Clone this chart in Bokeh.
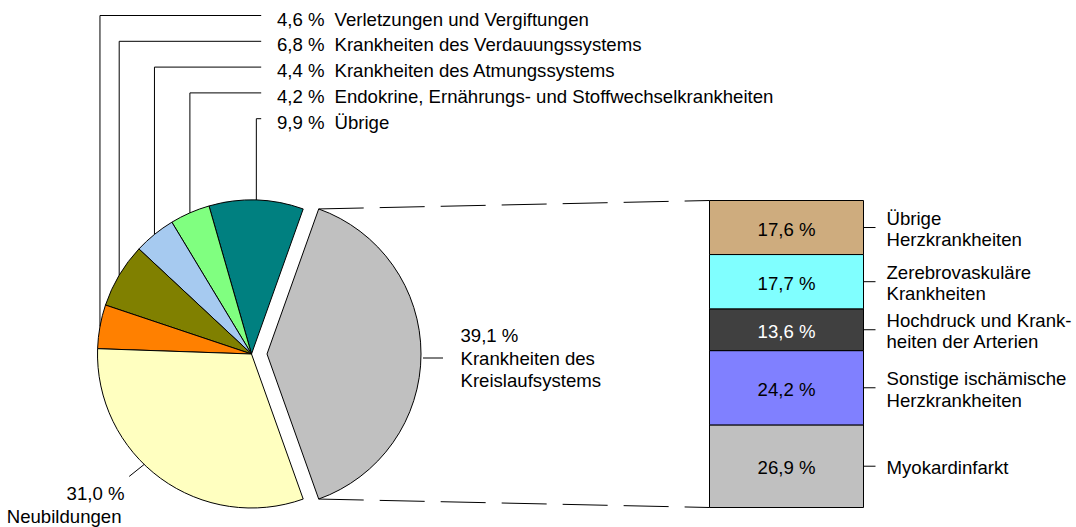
import math
from bokeh.plotting import figure
from bokeh.models import Range1d
from bokeh.embed import file_html
from bokeh.resources import INLINE
from bokeh.core.properties import value

# ---------------- data ----------------
pie_labels = ["Krankheiten des Kreislaufsystems", "Übrige",
              "Endokrine, Ernährungs- und Stoffwechselkrankheiten",
              "Krankheiten des Atmungssystems", "Krankheiten des Verdauungssystems",
              "Verletzungen und Vergiftungen", "Neubildungen"]
pie_values = [39.1, 9.9, 4.2, 4.4, 6.8, 4.6, 31.0]
pie_colors = ["#C0C0C0", "#008080", "#80FF80", "#A6CAF0", "#808000", "#FF8000", "#FFFFC0"]

# order of the labels listed above the pie (top to bottom)
top_label_order = [5, 4, 3, 2, 1]

bar_labels = [["Myokardinfarkt"],
              ["Sonstige ischämische", "Herzkrankheiten"],
              ["Hochdruck und Krank-", "heiten der Arterien"],
              ["Zerebrovaskuläre", "Krankheiten"],
              ["Übrige", "Herzkrankheiten"]]
bar_values = [26.9, 24.2, 13.6, 17.7, 17.6]
bar_colors = ["#C0C0C0", "#8080FF", "#404040", "#80FFFF", "#CEAC7E"]
bar_text_colors = ["black", "black", "white", "black", "black"]


def fmt(v):
    return f"{v:.1f}".replace(".", ",") + " %"


# ---------------- layout ----------------
W, H = 1076, 527
FONT = value("Liberation Sans")
FS = "18.6px"


def px(X):
    return X


def py(Y):
    return H - Y


CX, CY, R = px(251), py(353.5), 154
EXPLODE = 15.5
BAR_L, BAR_R = px(709), px(863)
BAR_B, BAR_T = py(507), py(200)

p = figure(width=W, height=H, output_backend="svg", toolbar_location=None,
           x_range=Range1d(0, W), y_range=Range1d(0, H), min_border=0)
p.axis.visible = False
p.grid.visible = False
p.outline_line_color = None
p.background_fill_color = "white"
p.border_fill_color = "white"

# ---------------- pie ----------------
total = sum(pie_values)
starts, ends, mids, xs, ys = [], [], [], [], []
a = -math.pi * pie_values[0] / total
for i, v in enumerate(pie_values):
    s = a
    e = a + 2 * math.pi * v / total
    m = (s + e) / 2
    starts.append(s)
    ends.append(e)
    mids.append(m)
    off = EXPLODE if i == 0 else 0.0
    xs.append(CX + off * math.cos(m))
    ys.append(CY + off * math.sin(m))
    a = e

p.wedge(x=xs, y=ys, radius=R, start_angle=starts, end_angle=ends,
        direction="anticlock", fill_color=pie_colors, line_color="black", line_width=1)

# ---------------- bar ----------------
bar_total = sum(bar_values)
bottoms, tops = [], []
acc = 0.0
for v in bar_values:
    b = BAR_B + (BAR_T - BAR_B) * acc / bar_total
    acc += v
    t = BAR_B + (BAR_T - BAR_B) * acc / bar_total
    bottoms.append(b)
    tops.append(t)
p.quad(left=BAR_L, right=BAR_R, bottom=bottoms, top=tops,
       fill_color=bar_colors, line_color="black", line_width=1)

bar_mids = [(b + t) / 2 for b, t in zip(bottoms, tops)]
p.text(x=[(BAR_L + BAR_R) / 2] * len(bar_values), y=[m - 1.5 for m in bar_mids],
       text=[fmt(v) for v in bar_values], text_color=bar_text_colors,
       text_font=FONT, text_font_size=FS, text_align="center", text_baseline="middle")

# bar labels
lx, ly, lt = [], [], []
for m, lines in zip(bar_mids, bar_labels):
    n = len(lines)
    for k, line in enumerate(lines):
        lx.append(px(886))
        ly.append(m - 1.5 - (k - (n - 1) / 2) * 21.5)
        lt.append(line)
p.text(x=lx, y=ly, text=lt, text_font=FONT, text_font_size=FS,
       text_align="left", text_baseline="middle", text_color="black")
p.multi_line(xs=[[BAR_R, px(875)] for _ in bar_mids], ys=[[m, m] for m in bar_mids],
             line_color="black", line_width=1)

# ---------------- connector lines ----------------
top_corner = (xs[0] + R * math.cos(ends[0]), ys[0] + R * math.sin(ends[0]))
bot_corner = (xs[0] + R * math.cos(starts[0]), ys[0] + R * math.sin(starts[0]))
p.multi_line(xs=[[top_corner[0], BAR_L], [bot_corner[0], BAR_L]],
             ys=[[top_corner[1], BAR_T], [bot_corner[1], BAR_B]],
             line_color="black", line_width=1, line_dash="45 16")

# ---------------- top labels ----------------
row_y = [py(18.5 + 25.8 * k) for k in range(len(top_label_order))]
lead_xs, lead_ys = [], []
for k, idx in enumerate(top_label_order):
    ex = CX + R * math.cos(mids[idx])
    ey = CY + R * math.sin(mids[idx])
    yl = row_y[k] + 3.5
    lead_xs.append([ex, ex, px(260.7)])
    lead_ys.append([ey, yl, yl])
p.multi_line(xs=lead_xs, ys=lead_ys, line_color="black", line_width=1)
p.text(x=[px(276.5)] * len(row_y), y=row_y,
       text=[fmt(pie_values[i]) for i in top_label_order],
       text_font=FONT, text_font_size=FS, text_align="left", text_baseline="middle")
p.text(x=[px(334)] * len(row_y), y=row_y,
       text=[pie_labels[i] for i in top_label_order],
       text_font=FONT, text_font_size=FS, text_align="left", text_baseline="middle")

# ---------------- Kreislauf label ----------------
gx = xs[0] + R
g_lines = [fmt(pie_values[0]), "Krankheiten des", "Kreislaufsystems"]
g_y = [py(335), py(357.5), py(380)]
p.line(x=[gx + 2, gx + 22], y=[g_y[1], g_y[1]], line_color="black", line_width=1)
p.text(x=[px(460)] * 3, y=g_y, text=g_lines, text_font=FONT, text_font_size=FS,
       text_align="left", text_baseline="middle")

# ---------------- Neubildungen label ----------------
na = mids[6] - math.radians(8)
nx0 = CX + R * math.cos(na)
ny0 = CY + R * math.sin(na)
p.line(x=[nx0, nx0 - 15], y=[ny0, ny0 - 12], line_color="black", line_width=1)
p.text(x=[px(124), px(121)], y=[py(493), py(516)],
       text=[fmt(pie_values[6]), pie_labels[6]], text_font=FONT, text_font_size=FS,
       text_align="right", text_baseline="middle")

open("out.html", "w").write(file_html(p, INLINE))
